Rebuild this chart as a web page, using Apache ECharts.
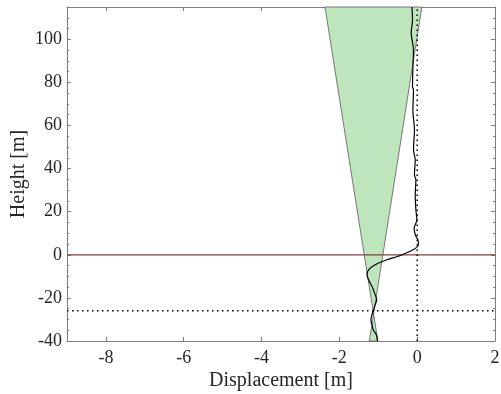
<!DOCTYPE html>
<html><head><meta charset="utf-8">
<script src="https://cdn.jsdelivr.net/npm/echarts@6/dist/echarts.min.js"></script>
<style>html,body{margin:0;padding:0;background:#fff}#c{width:501px;height:394px}</style>
</head><body><div id="c"></div>
<script>
// Displacement profile (black curve)
var profileX = [-0.136,-0.12,-0.154,-0.095,-0.11,-0.12,-0.095,-0.11,-0.07,-0.095,-0.05,-0.07,-0.033,-0.05,-0.033,-0.008,-0.077,-0.05,0.018,0.03,-0.39,-0.78,-1.08,-1.25,-1.29,-1.25,-1.16,-1.08,-1.04,-1.08,-1.12,-1.16,-1.19,-1.16,-1.13,-1.05,-1.02];
var profileY = [115,109,103,95,87,78,76.5,67,58,48.7,44,37,34.8,27.8,20.9,16.2,12.5,9.3,7,4.6,0,-2.3,-4.6,-7,-9.3,-11.6,-14.7,-18.5,-20.9,-23.2,-25.5,-27.8,-30.1,-32.5,-34.8,-37.1,-40];
// Envelope (green cone): corners
var coneX = [-2.37, 0.12, -1.23, -1.01];
var coneY = [115, 115, -40, -40];
// Reference lines
var groundLevel = 0;
var baseLevel = -26;
var zeroDisp = 0;
var xTicks = [-8,-6,-4,-2,0,2];
var xMin = -9, xMax = 2, yMin = -40, yMax = 115;

var font = 'Liberation Serif';
var chart = echarts.init(document.getElementById('c'), null, {renderer:'canvas'});
var axisCol = '#7f7f7f';
var profile = profileX.map(function(x,i){return [x, profileY[i]];});
var cone = coneX.map(function(x,i){return [x, coneY[i]];});

chart.setOption({
  animation:false,
  grid:{left:67,right:6,top:7,bottom:53,containLabel:false,outerBoundsMode:'none'},
  xAxis:[{
    type:'value', min:xMin, max:xMax, position:'bottom',
    name:'Displacement [m]', nameLocation:'middle', nameGap:30, nameMoveOverlap:false,
    nameTextStyle:{fontFamily:font,fontSize:20,color:'#262626'},
    axisLine:{show:true,onZero:false,lineStyle:{color:axisCol,width:1}},
    axisTick:{show:true,inside:true,length:4,customValues:xTicks,lineStyle:{color:axisCol}},
    axisLabel:{customValues:xTicks,fontFamily:font,fontSize:18,color:'#262626',margin:8},
    splitLine:{show:false}
  },{
    type:'value', min:xMin, max:xMax, position:'top',
    axisLine:{show:true,onZero:false,lineStyle:{color:axisCol,width:1}},
    axisTick:{show:true,inside:true,length:4,customValues:xTicks,lineStyle:{color:axisCol}},
    axisLabel:{show:false}, splitLine:{show:false}
  }],
  yAxis:[{
    type:'value', min:yMin, max:yMax, interval:20, position:'left',
    name:'Height [m]', nameLocation:'middle', nameGap:38, nameRotate:90, nameMoveOverlap:false,
    nameTextStyle:{fontFamily:font,fontSize:20,color:'#262626'},
    axisLine:{show:true,onZero:false,lineStyle:{color:axisCol,width:1}},
    axisTick:{show:true,inside:true,length:4,lineStyle:{color:axisCol}},
    minorTick:{show:true,splitNumber:4,length:2,lineStyle:{color:axisCol}},
    axisLabel:{fontFamily:font,fontSize:18,color:'#262626',margin:5,showMaxLabel:false,
      formatter:function(v){return v%20===0?String(v):'';}},
    splitLine:{show:false}
  },{
    type:'value', min:yMin, max:yMax, interval:20, position:'right',
    axisLine:{show:true,onZero:false,lineStyle:{color:axisCol,width:1}},
    axisTick:{show:true,inside:true,length:4,lineStyle:{color:axisCol}},
    minorTick:{show:true,splitNumber:4,length:2,lineStyle:{color:axisCol}},
    axisLabel:{show:false}, splitLine:{show:false}
  }],
  series:[
    {
      type:'custom', xAxisIndex:0, yAxisIndex:0, data:cone, z:1, silent:true,
      renderItem:function(params, api){
        if(params.dataIndex!==0) return null;
        var pts = cone.map(function(p){return api.coord(p);});
        return {type:'polygon', shape:{points:pts},
          style:{fill:'#bfe5bd',stroke:'#5a5a5a',lineWidth:0.8}};
      }
    },
    {
      type:'line', data:[[xMin,groundLevel],[xMax,groundLevel]], symbol:'none', z:2,
      lineStyle:{color:'#8b3a3a',width:1.3}
    },
    {
      type:'line', data:profile, symbol:'none', smooth:0.3, z:3,
      lineStyle:{color:'#000',width:1.2}
    },
    {
      type:'line', data:[[xMin,baseLevel],[xMax,baseLevel]], symbol:'none', z:4,
      lineStyle:{color:'#000',width:1.5,type:[1.5,3.5]}
    },
    {
      type:'line', data:[[zeroDisp,yMin],[zeroDisp,yMax]], symbol:'none', z:4,
      lineStyle:{color:'#000',width:1.5,type:[1.5,3.5]}
    }
  ]
});
</script></body></html>
